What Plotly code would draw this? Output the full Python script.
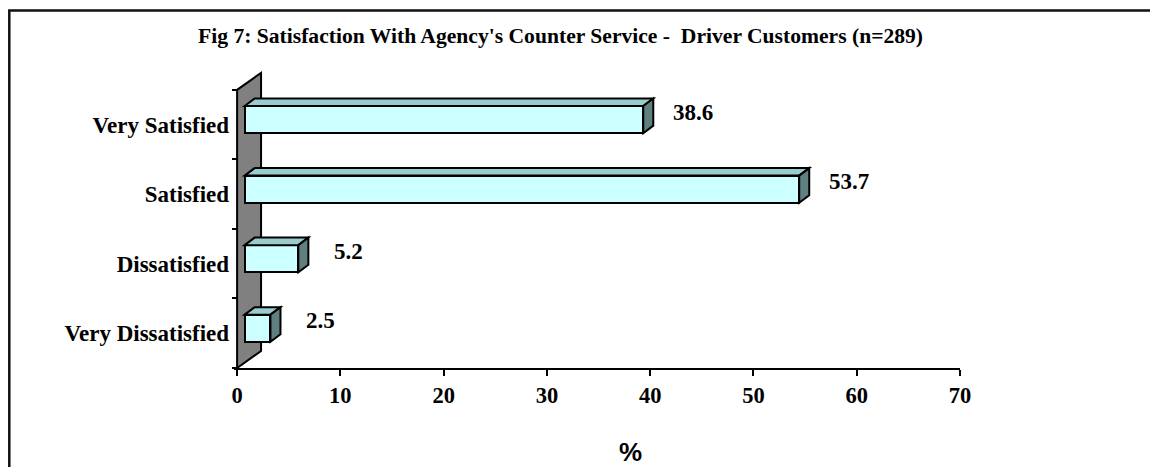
import plotly.graph_objects as go

# ---------------- data ----------------
categories = ["Very Dissatisfied", "Dissatisfied", "Satisfied", "Very Satisfied"]
values = [2.5, 5.2, 53.7, 38.6]
x_ticks = [0, 10, 20, 30, 40, 50, 60, 70]
title_text = "Fig 7: Satisfaction With Agency's Counter Service -&nbsp; Driver Customers (n=289)"
x_title = "%"

# ---------------- geometry / style (axis units) ----------------
X0 = 0.73        # front face starts a little in front of the back wall
DX = 0.97        # 3-D depth, x units
DY = 0.108       # 3-D depth, y units
BAR_W = 0.39
BAR_SHIFT = 0.072
WALL_DX = 2.32
WALL_DY = 0.245
XMIN, XMAX = -0.3, 70
YMIN, YMAX = -0.5, 3.8

SERIF = "Liberation Serif, Times New Roman, serif"
SANS = "Liberation Sans, Arial, sans-serif"
FRONT = "#CCFFFF"
TOP = "#99CCCC"
SIDE = "#608080"
WALL = "#808080"

# page body has an 8px margin: figure pixel = screen pixel - 8
OFF = 8
W, H = 1158 - 2 * OFF, 475 - 2 * OFF
ML = 234 - OFF
MT = 69 - OFF
MR = W - (960 - OFF)
MB = H - (368 - OFF)
pw = W - ML - MR
ph = H - MT - MB

def px_to_paper_x(px):
    return (px - OFF - ML) / pw

def px_to_paper_y(py):
    return (H - MB - (py - OFF)) / ph

ypos = list(range(len(categories)))
n = len(categories)

fig = go.Figure()

# front faces
fig.add_trace(go.Bar(
    orientation="h",
    x=values,
    y=[i + BAR_SHIFT for i in ypos],
    base=X0,
    width=BAR_W,
    marker=dict(color=FRONT, line=dict(color="black", width=2)),
    hoverinfo="skip",
    showlegend=False,
))

shapes = []
# back wall
shapes.append(dict(
    type="path", xref="x", yref="y", layer="below",
    path=(f"M 0,{-0.5} L 0,{n - 0.5} L {WALL_DX},{n - 0.5 + WALL_DY} "
          f"L {WALL_DX},{-0.5 + WALL_DY} Z"),
    fillcolor=WALL, line=dict(color="black", width=2),
))

annotations = []
for i, v in zip(ypos, values):
    yc = i + BAR_SHIFT
    yb = yc - BAR_W / 2
    yt = yc + BAR_W / 2
    x1 = X0 + v
    shapes.append(dict(
        type="path", xref="x", yref="y", layer="above",
        path=(f"M {X0},{yt} L {X0 + DX},{yt + DY} L {x1 + DX},{yt + DY} "
              f"L {x1},{yt} Z"),
        fillcolor=TOP, line=dict(color="black", width=2),
    ))
    shapes.append(dict(
        type="path", xref="x", yref="y", layer="above",
        path=(f"M {x1},{yb} L {x1},{yt} L {x1 + DX},{yt + DY} "
              f"L {x1 + DX},{yb + DY} Z"),
        fillcolor=SIDE, line=dict(color="black", width=2),
    ))
    annotations.append(dict(
        x=x1 + DX, y=yc + DY, xref="x", yref="y",
        text=f"{v:.1f}", showarrow=False, xanchor="center", yanchor="middle",
        xshift=40,
        font=dict(family=SERIF, size=23, color="black", weight="bold"),
    ))

# outer frame (right and bottom edges lie outside the picture)
shapes.append(dict(
    type="rect", xref="paper", yref="paper",
    x0=px_to_paper_x(OFF + 1.3), x1=px_to_paper_x(1300),
    y0=px_to_paper_y(700), y1=px_to_paper_y(10.5),
    line=dict(color="#111111", width=2.5), fillcolor="rgba(0,0,0,0)",
))

annotations.append(dict(
    x=px_to_paper_x(560), y=px_to_paper_y(36), xref="paper", yref="paper",
    text=title_text, showarrow=False, xanchor="center", yanchor="middle",
    font=dict(family=SERIF, size=21.6, color="black", weight="bold"),
))
annotations.append(dict(
    x=px_to_paper_x(630), y=px_to_paper_y(452), xref="paper", yref="paper",
    text=x_title, showarrow=False, xanchor="center", yanchor="middle",
    font=dict(family=SANS, size=26, color="black", weight="bold"),
))

fig.update_layout(
    width=W, height=H,
    margin=dict(l=ML, r=MR, t=MT, b=MB, pad=0),
    paper_bgcolor="white", plot_bgcolor="white",
    showlegend=False,
    shapes=shapes,
    annotations=annotations,
    bargap=0,
    xaxis=dict(
        range=[XMIN, XMAX], tickmode="array", tickvals=x_ticks,
        ticks="outside", ticklen=6, tickwidth=2, tickcolor="black",
        showline=True, linewidth=2, linecolor="black",
        showgrid=False, zeroline=False,
        tickfont=dict(family=SERIF, size=22.5, color="black", weight="bold"),
        ticklabelstandoff=0,
    ),
    yaxis=dict(
        range=[YMIN, YMAX], tickmode="array", tickvals=ypos, ticktext=categories,
        ticks="", showline=False, showgrid=False, zeroline=False,
        anchor="free", position=(0 - XMIN) / (XMAX - XMIN),
        tickfont=dict(family=SERIF, size=23, color="black", weight="bold"),
        ticklabelstandoff=8,
        minor=dict(tickmode="array", tickvals=[k - 0.5 for k in range(n + 1)],
                   ticks="outside", ticklen=5, tickwidth=2, tickcolor="black",
                   showgrid=False),
    ),
)

fig.write_html("out.html")
